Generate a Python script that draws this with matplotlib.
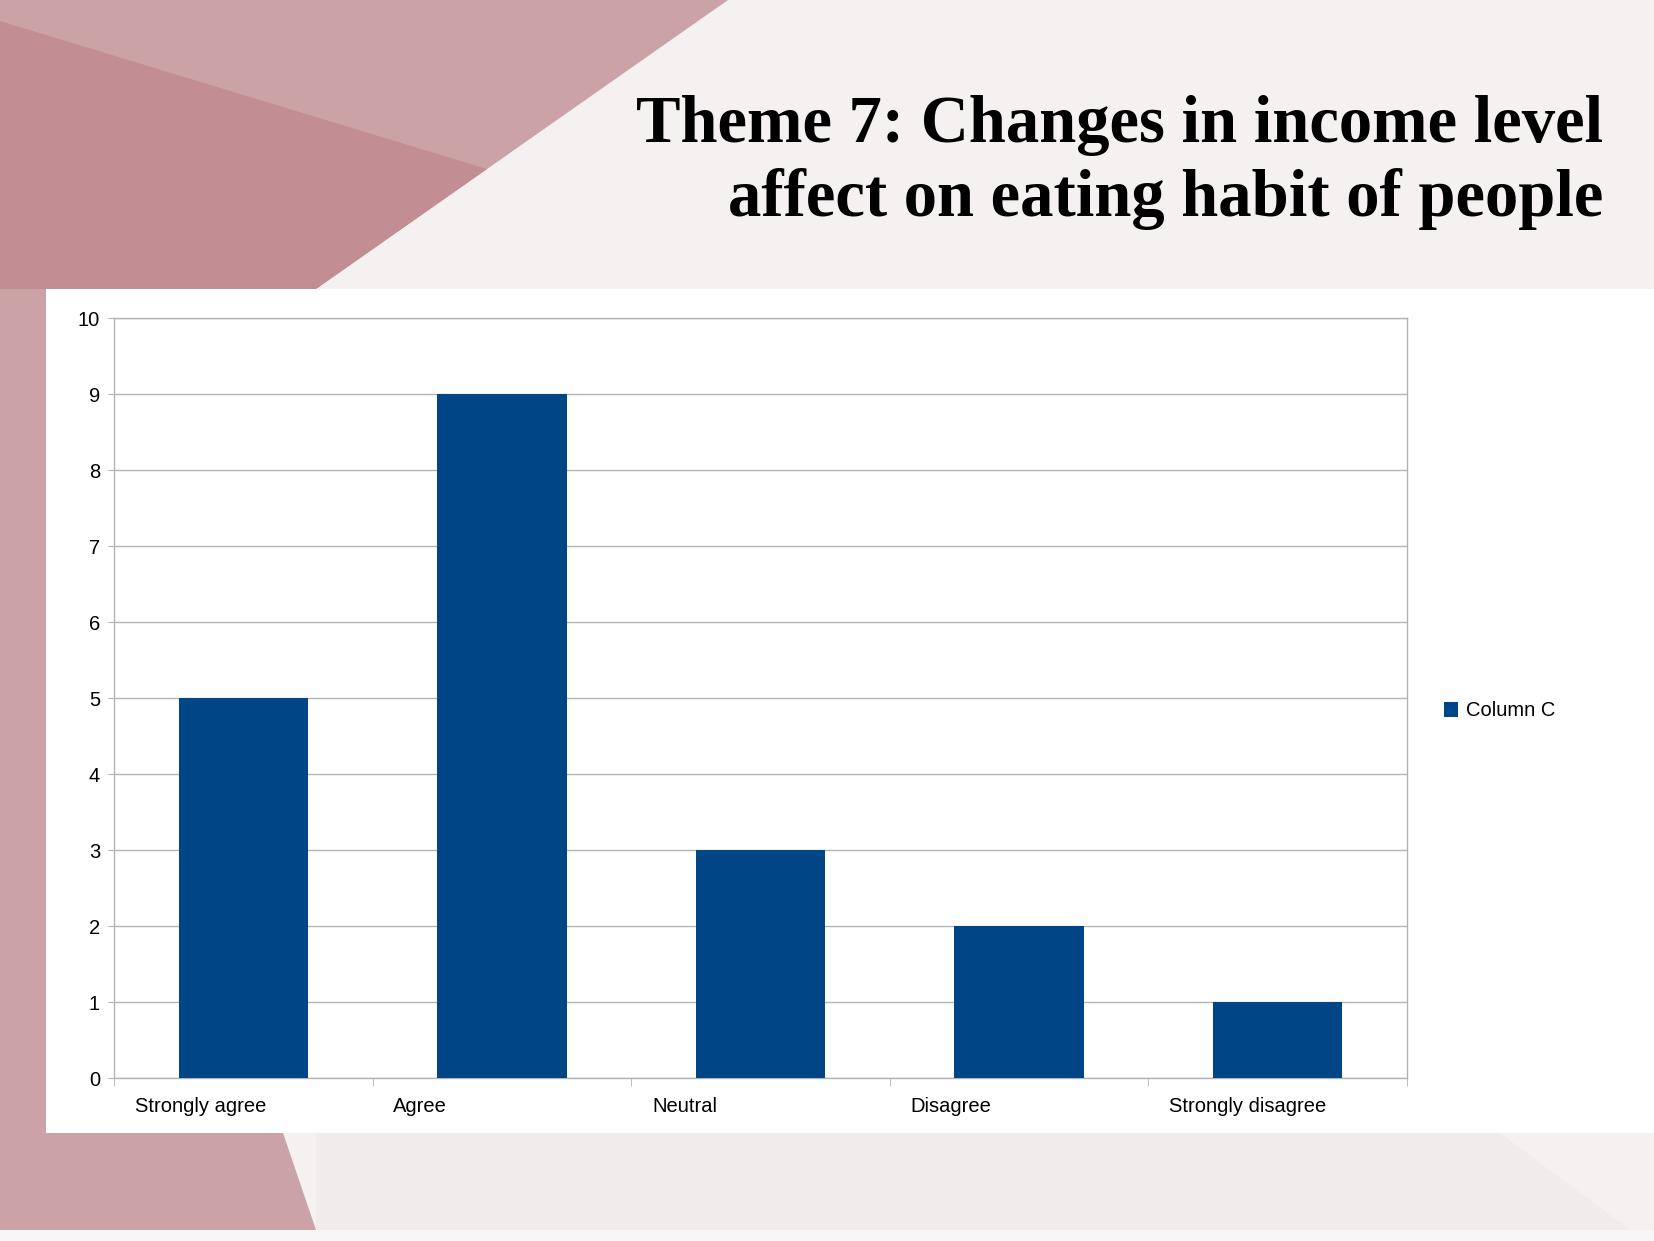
import matplotlib.pyplot as plt
from matplotlib.patches import Polygon, Rectangle

plt.rcParams['font.family'] = ['Liberation Sans', 'DejaVu Sans']

categories = ['Strongly agree', 'Agree', 'Neutral', 'Disagree', 'Strongly disagree']
values = [5, 9, 3, 2, 1]
series_name = 'Column C'
title_lines = ['Theme 7: Changes in income level', 'affect on eating habit of people']

W, H = 1654, 1241
fig = plt.figure(figsize=(W / 100, H / 100), dpi=100)
fig.patch.set_facecolor('#f5f1f1')


def px(points):
    # pixel coords (from top-left) -> figure fraction
    return [(x / W, 1 - y / H) for x, y in points]


# slide background
fig.patches.append(Polygon(px([(0, 0), (728, 0), (316, 289), (283, 1133), (316, 1230), (0, 1230)]),
                           closed=True, transform=fig.transFigure, facecolor='#cba3a6', edgecolor='none', zorder=0))
fig.patches.append(Polygon(px([(0, 21), (487, 169), (316, 289), (0, 289)]),
                           closed=True, transform=fig.transFigure, facecolor='#c28e93', edgecolor='none', zorder=0))
fig.patches.append(Polygon(px([(316, 1133), (1500, 1133), (1630, 1230), (316, 1230)]),
                           closed=True, transform=fig.transFigure, facecolor='#f1ecec', edgecolor='none', zorder=0))
fig.patches.append(Polygon(px([(0, 1230), (1654, 1230), (1654, 1241), (0, 1241)]),
                           closed=True, transform=fig.transFigure, facecolor='#f8f6f6', edgecolor='none', zorder=0))
# white chart panel
fig.patches.append(Rectangle((46 / W, 1 - 1133 / H), 1 - 46 / W, (1133 - 289) / H,
                             transform=fig.transFigure, facecolor='white', edgecolor='none', zorder=1))

for line, base in zip(title_lines, [142, 216]):
    fig.text(1603 / W, 1 - base / H, line, ha='right', va='baseline',
             family=['Liberation Serif', 'DejaVu Serif'], fontweight='bold', fontsize=48, color='black')

ax = fig.add_axes([114 / W, 1 - 1078 / H, (1407 - 114) / W, (1078 - 318) / H])
ax.set_zorder(5)
ax.set_facecolor('white')
x = list(range(len(categories)))
ax.bar(x, values, width=0.5, color='#004586', label=series_name, zorder=3)

ax.set_xlim(-0.5, len(categories) - 0.5)
ax.set_ylim(0, 10)
ax.set_yticks(range(0, 11))
ax.grid(axis='y', color='#b3b3b3', linewidth=1, zorder=0)
for s in ax.spines.values():
    s.set_color('#b3b3b3')
    s.set_linewidth(1)

ax.set_xticks([i - 0.42 for i in x])
ax.set_xticklabels(categories, ha='left')
ax.set_xticks([i - 0.5 for i in range(len(categories) + 1)], minor=True)
ax.tick_params(axis='x', which='major', length=0, pad=14, labelsize=14.5)
ax.tick_params(axis='x', which='minor', length=6, color='#b3b3b3', direction='out')
ax.tick_params(axis='y', length=4, color='#b3b3b3', pad=6, labelsize=14.5)

ax.legend(loc='center left', bbox_to_anchor=(1434 / W, 1 - 711 / H), bbox_transform=fig.transFigure,
          frameon=False, fontsize=14.5, handlelength=0.7, handleheight=0.7, handletextpad=0.4, borderpad=0)

fig.savefig('out.png', dpi=100, facecolor=fig.get_facecolor())
